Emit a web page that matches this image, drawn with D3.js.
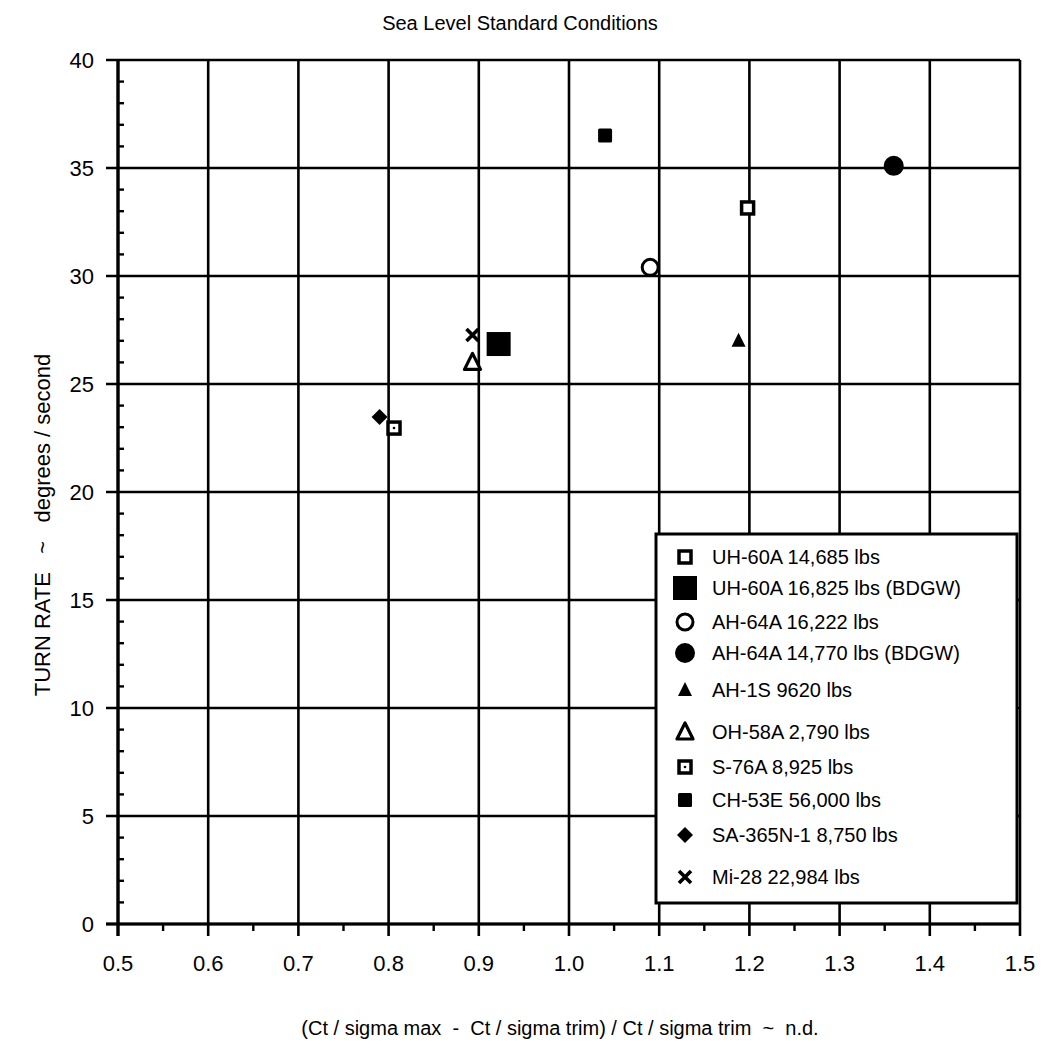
<!DOCTYPE html>
<html><head><meta charset="utf-8">
<script src="https://cdn.jsdelivr.net/npm/d3@7"></script>
<style>
body{margin:0;background:#fff;}
svg text{font-family:"Liberation Sans",Arial,sans-serif;fill:#000;}
</style></head>
<body><svg id="c" width="1046" height="1056"></svg>
<script>
const title = "Sea Level Standard Conditions";
const xTitle = "(Ct / sigma max  -  Ct / sigma trim) / Ct / sigma trim  ~  n.d.";
const yTitle = "TURN RATE   ~   degrees / second";
const xTicks = [0.5,0.6,0.7,0.8,0.9,1.0,1.1,1.2,1.3,1.4,1.5];
const yTicks = [0,5,10,15,20,25,30,35,40];
const seriesNames = ["UH-60A 14,685 lbs","UH-60A 16,825 lbs (BDGW)","AH-64A 16,222 lbs","AH-64A 14,770 lbs (BDGW)","AH-1S 9620 lbs","OH-58A 2,790 lbs","S-76A 8,925 lbs","CH-53E 56,000 lbs","SA-365N-1 8,750 lbs","Mi-28 22,984 lbs"];
const seriesSymbols = ["smallOpenSquare","bigSquare","openCircle","filledCircle","filledTriangle","openTriangle","dotSquare","filledSquare","diamond","cross"];
const xValues = [1.198,0.922,1.090,1.360,1.188,0.893,0.806,1.040,0.790,0.893];
const yValues = [33.15,26.85,30.4,35.1,27.0,26.0,22.96,36.5,23.47,27.27];

const svg = d3.select("#c");
const x = d3.scaleLinear().domain([0.5,1.5]).range([118,1020]);
const y = d3.scaleLinear().domain([0,40]).range([924,60]);
const LW = 2.6;

const g = svg.append("g");
g.selectAll(".vg").data(xTicks).join("line")
  .attr("x1",d=>x(d)).attr("x2",d=>x(d)).attr("y1",y(0)+12).attr("y2",y(40))
  .attr("stroke","#000").attr("stroke-width",LW);
g.selectAll(".hg").data(yTicks).join("line")
  .attr("x1",x(0.5)-12).attr("x2",x(1.5)).attr("y1",d=>y(d)).attr("y2",d=>y(d))
  .attr("stroke","#000").attr("stroke-width",LW);
g.append("line").attr("x1",x(0.5)).attr("x2",x(0.5)).attr("y1",y(0)+12).attr("y2",y(40)).attr("stroke","#000").attr("stroke-width",3.2);
g.append("line").attr("x1",x(0.5)-12).attr("x2",x(1.5)).attr("y1",y(0)).attr("y2",y(0)).attr("stroke","#000").attr("stroke-width",3.2);
const yMinor = d3.range(0,41).filter(v=>v%5!==0);
g.selectAll(".ym").data(yMinor).join("line")
  .attr("x1",x(0.5)).attr("x2",x(0.5)+6).attr("y1",d=>y(d)).attr("y2",d=>y(d))
  .attr("stroke","#000").attr("stroke-width",2.4);
const xMinor = d3.range(0,10).map(i=>0.55+i*0.1);
g.selectAll(".xm").data(xMinor).join("line")
  .attr("x1",d=>x(d)).attr("x2",d=>x(d)).attr("y1",y(0)).attr("y2",y(0)+7)
  .attr("stroke","#000").attr("stroke-width",2.4);

svg.selectAll(".xl").data(xTicks).join("text")
  .attr("x",d=>x(d)).attr("y",y(0)+47).attr("text-anchor","middle")
  .attr("font-size",22).text(d=>d.toFixed(1));
svg.selectAll(".yl").data(yTicks).join("text")
  .attr("x",x(0.5)-24).attr("y",d=>y(d)+8).attr("text-anchor","end")
  .attr("font-size",22).text(d=>d);

svg.append("text").attr("x",520).attr("y",30).attr("text-anchor","middle").attr("font-size",20).text(title);
svg.append("text").attr("x",560).attr("y",1035).attr("text-anchor","middle").attr("font-size",20).style("white-space","pre").text(xTitle);
svg.append("text").attr("transform","translate(50,525) rotate(-90)").attr("text-anchor","middle").attr("font-size",22).style("white-space","pre").text(yTitle);

function drawSym(sel, type){
  switch(type){
    case "smallOpenSquare":
      sel.append("rect").attr("x",-6).attr("y",-6).attr("width",12).attr("height",12).attr("fill","#fff").attr("stroke","#000").attr("stroke-width",3.5); break;
    case "bigSquare":
      sel.append("rect").attr("x",-12).attr("y",-12).attr("width",24).attr("height",24).attr("fill","#000"); break;
    case "openCircle":
      sel.append("circle").attr("r",8).attr("fill","#fff").attr("stroke","#000").attr("stroke-width",3); break;
    case "filledCircle":
      sel.append("circle").attr("r",10).attr("fill","#000"); break;
    case "filledTriangle":
      sel.append("path").attr("d","M0,-8L7,6L-7,6Z").attr("fill","#000"); break;
    case "openTriangle":
      sel.append("path").attr("d","M0,-9L8,7L-8,7Z").attr("fill","#fff").attr("stroke","#000").attr("stroke-width",3.2).attr("stroke-linejoin","round"); break;
    case "dotSquare":
      sel.append("rect").attr("x",-6).attr("y",-6).attr("width",12).attr("height",12).attr("fill","#fff").attr("stroke","#000").attr("stroke-width",3.5);
      sel.append("circle").attr("r",1.3).attr("fill","#000"); break;
    case "filledSquare":
      sel.append("rect").attr("x",-7).attr("y",-7).attr("width",14).attr("height",14).attr("rx",1.5).attr("fill","#000"); break;
    case "diamond":
      sel.append("path").attr("d","M0,-8L8,0L0,8L-8,0Z").attr("fill","#000"); break;
    case "cross":
      sel.append("path").attr("d","M-6,-6L6,6M6,-6L-6,6").attr("stroke","#000").attr("stroke-width",3.6); break;
  }
}

seriesNames.forEach((n,i)=>{
  const p = svg.append("g").attr("transform",`translate(${x(xValues[i])},${y(yValues[i])})`);
  drawSym(p, seriesSymbols[i]);
});

const lg = svg.append("g");
lg.append("rect").attr("x",656).attr("y",534).attr("width",361).attr("height",369)
  .attr("fill","#fff").attr("stroke","#000").attr("stroke-width",3);
const rowY = [557,588,622,653,690,732,767,800,835,877];
seriesNames.forEach((n,i)=>{
  const r = lg.append("g").attr("transform",`translate(685,${rowY[i]})`);
  drawSym(r, seriesSymbols[i]);
  lg.append("text").attr("x",712).attr("y",rowY[i]+7).attr("font-size",20).text(n);
});
</script></body></html>
